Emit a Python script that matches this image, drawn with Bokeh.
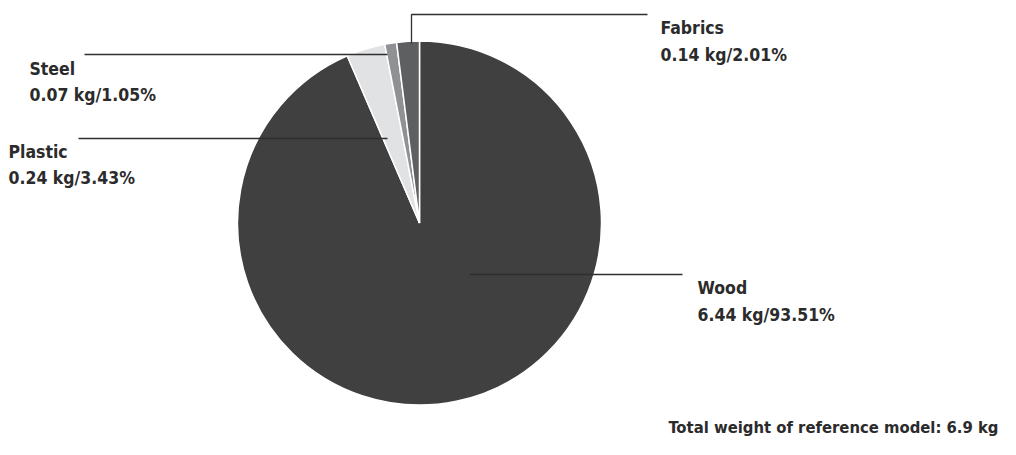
import math
from bokeh.plotting import figure
from bokeh.models import Range1d, ColumnDataSource
from bokeh.core.properties import value
from bokeh.embed import file_html
from bokeh.resources import INLINE

# ---- data ----
materials = ["Wood", "Plastic", "Steel", "Fabrics"]
weights_kg = [6.44, 0.24, 0.07, 0.14]
percents = [93.51, 3.43, 1.05, 2.01]
colors = ["#404040", "#e1e2e4", "#8f9195", "#5e5f61"]
total_label = "Total weight of reference model: 6.9 kg"

# ---- layout ----
W, H = 1000, 439
FONT = value("'Liberation Sans Narrow', 'DejaVu Sans Condensed', 'Roboto', sans-serif")
TXT = "#2b2b2b"
LINE = "#2e2e2e"


def fx(px):
    return px


def fy(py):
    return H - py


p = figure(width=W, height=H, x_range=Range1d(0, W), y_range=Range1d(0, H),
           output_backend="svg", toolbar_location=None, min_border=0)
p.axis.visible = False
p.grid.visible = False
p.outline_line_color = None
p.background_fill_color = "white"
p.border_fill_color = "white"

# pie
cx, cy, r = fx(419), fy(222.5), 182
start, end = [], []
cum = 0.0
for pct in percents:
    start.append(math.pi / 2 - cum / 100 * 2 * math.pi)
    cum += pct
    end.append(math.pi / 2 - cum / 100 * 2 * math.pi)
src = ColumnDataSource(dict(material=materials, start=start, end=end, color=colors))
p.wedge(x=cx, y=cy, radius=r, radius_units="screen", start_angle="start", end_angle="end",
        direction="clock", fill_color="color", line_color="white", line_width=1.5, source=src)

# leader lines (pixel coordinates from top-left)
leaders = {
    "Wood": ([469, 682], [274, 274]),
    "Plastic": ([78, 387], [138, 138]),
    "Steel": ([84, 387], [54, 54]),
    "Fabrics": ([411, 411, 647], [43, 14, 14]),
}
for m in materials:
    xs, ys = leaders[m]
    p.line([fx(x) for x in xs], [fy(y) for y in ys], line_color=LINE, line_width=1.3)

# labels: (x, baseline of name, baseline of value)
label_pos = {
    "Wood": (697, 287, 314),
    "Plastic": (8, 151, 177),
    "Steel": (29, 68, 94),
    "Fabrics": (660, 27, 54),
}
tx, ty, tt = [], [], []
for m, w, pct in zip(materials, weights_kg, percents):
    x0, y1, y2 = label_pos[m]
    tx += [fx(x0), fx(x0)]
    ty += [fy(y1), fy(y2)]
    tt += [m, f"{w:.2f} kg/{pct:.2f}%"]

p.text(x=tx, y=ty, text=tt, text_font=FONT, text_font_style="bold",
       text_font_size="17.5px", text_color=TXT, text_baseline="alphabetic", text_align="left")

p.text(x=[fx(998)], y=[fy(427)], text=[total_label], text_font=FONT, text_font_style="bold",
       text_font_size="16.5px", text_color=TXT, text_baseline="alphabetic", text_align="right")

open("out.html", "w").write(file_html(p, INLINE))
